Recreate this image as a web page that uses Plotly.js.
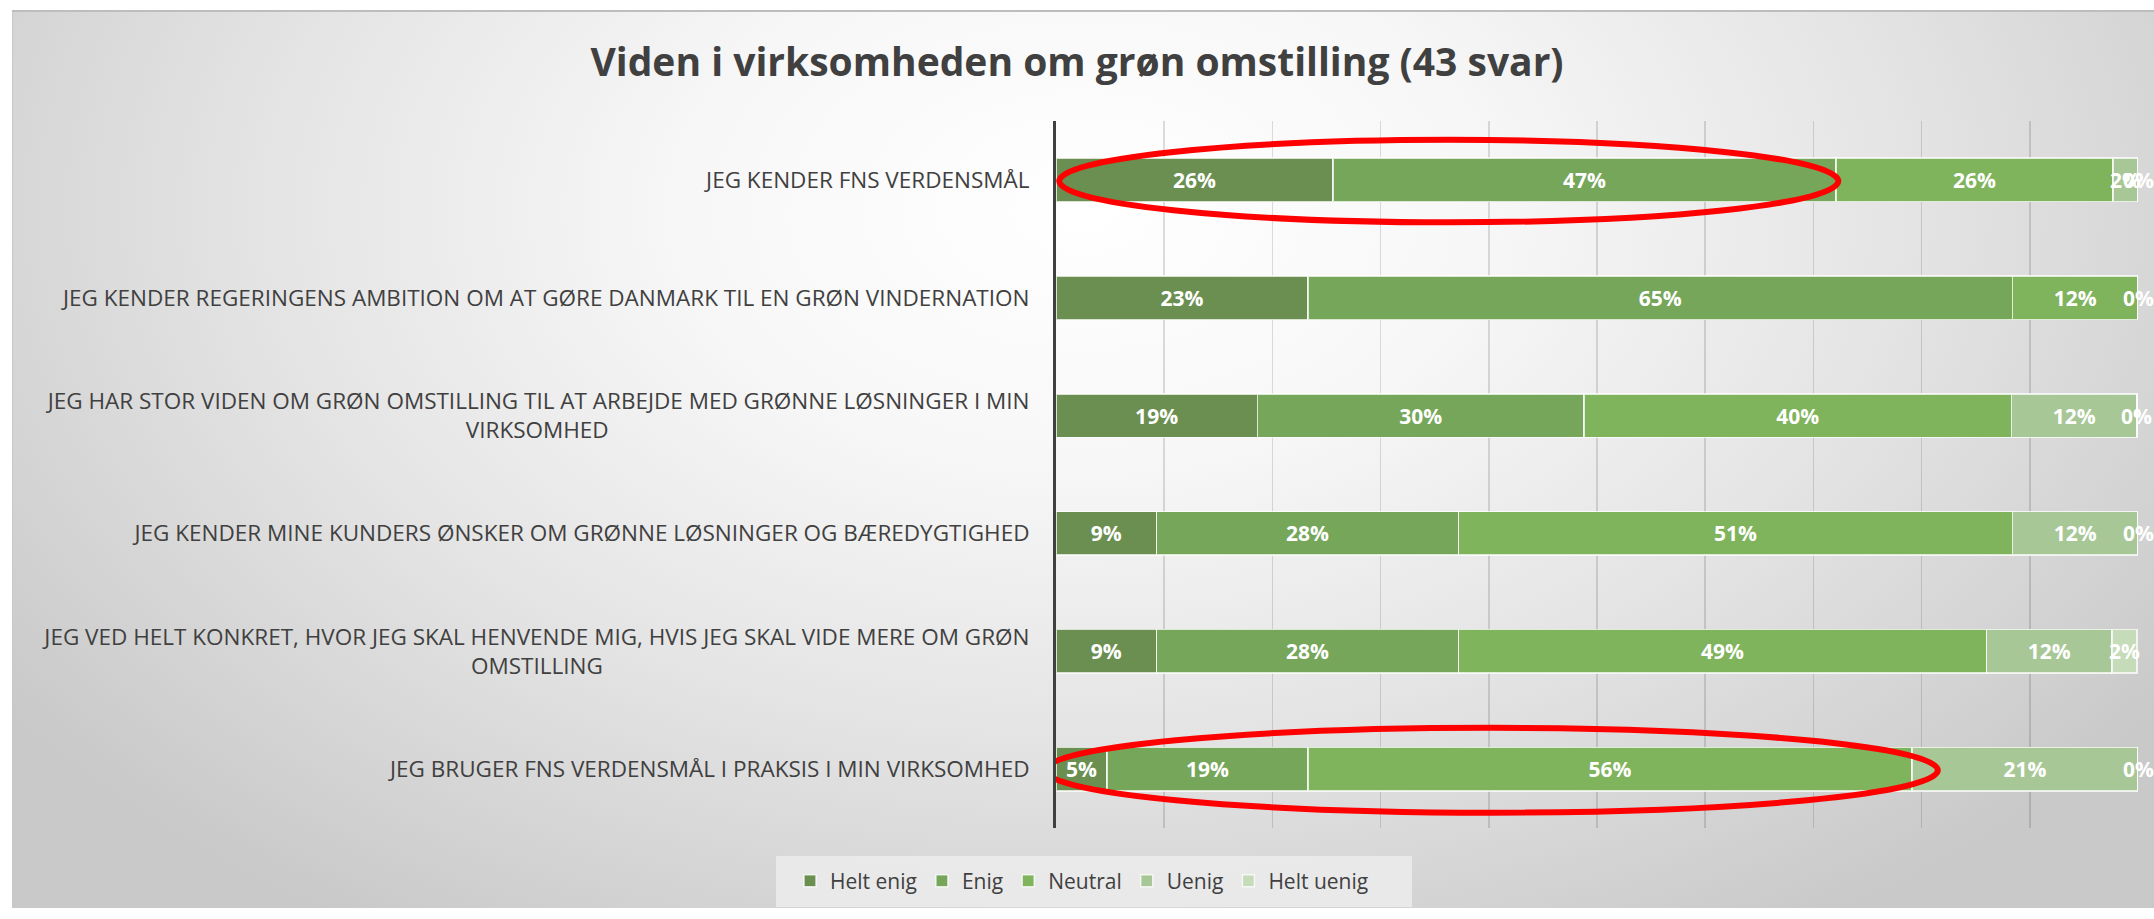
<!DOCTYPE html>
<html>
<head>
<meta charset="utf-8">
<script src="https://cdn.plot.ly/plotly-3.0.1.min.js"></script>
<style>
  html, body { margin: 0; padding: 0; background: #ffffff; width: 2154px; height: 919px; overflow: hidden; }
  #bg { position: absolute; left: 12px; top: 10px; width: 2142px; height: 898px;
        background: radial-gradient(ellipse 62% 95% at 50% 22%, #ffffff 0%, #f7f7f7 30%, #e4e4e4 62%, #c9c9c9 100%);
        border-top: 2px solid #bdbdbd; border-left: 1px solid #c8c8c8; box-sizing: border-box; }
  #chart { position: absolute; left: 0; top: 0; width: 2154px; height: 919px; }
  #measure { position: absolute; left: 0; top: 0; visibility: hidden; }
</style>
</head>
<body>
<div id="bg"></div>
<div id="chart"></div>
<svg id="measure" width="3000" height="100"><text id="mtext" x="0" y="50" style="font-family:'Open Sans';font-size:22.5px;white-space:pre"></text></svg>
<script>
const categories = [
  "JEG KENDER FNS VERDENSMÅL",
  "JEG KENDER REGERINGENS AMBITION OM AT GØRE DANMARK TIL EN GRØN VINDERNATION",
  "JEG HAR STOR VIDEN OM GRØN OMSTILLING TIL AT ARBEJDE MED GRØNNE LØSNINGER I MIN<br>VIRKSOMHED",
  "JEG KENDER MINE KUNDERS ØNSKER OM GRØNNE LØSNINGER OG BÆREDYGTIGHED",
  "JEG VED HELT KONKRET, HVOR JEG SKAL HENVENDE MIG, HVIS JEG SKAL VIDE MERE OM GRØN<br>OMSTILLING",
  "JEG BRUGER FNS VERDENSMÅL I PRAKSIS I MIN VIRKSOMHED"
];
const seriesNames = ["Helt enig", "Enig", "Neutral", "Uenig", "Helt uenig"];
const heltEnig  = [25.6, 23.3, 18.6,  9.3,  9.3,  4.7];
const enig      = [46.5, 65.1, 30.2, 27.9, 27.9, 18.6];
const neutral   = [25.6, 11.6, 39.5, 51.2, 48.8, 55.8];
const uenig     = [ 2.3,  0.0, 11.6, 11.6, 11.6, 20.9];
const heltUenig = [ 0.0,  0.0,  0.0,  0.0,  2.3,  0.0];
const titleText = "Viden i virksomheden om grøn omstilling (43 svar)";

const seriesValues = [heltEnig, enig, neutral, uenig, heltUenig];
const colors = ["#6b8f50", "#76a65a", "#7fb35c", "#a8c796", "#c6dbb9"];
const tickFontSize = 22.5;
const labelFont = { family: "Open Sans", size: 21, color: "#ffffff", weight: "bold" };

// centre the second line of wrapped tick labels (Excel-style) using no-break spaces,
// measured with the same SVG text renderer that Plotly uses
const measureSvg = document.getElementById("measure");
const mtext = document.getElementById("mtext");
function textWidth(s) { mtext.textContent = s; return mtext.getComputedTextLength(); }
const nbspW = (textWidth("a" + "\u00a0".repeat(40) + "a") - textWidth("aa")) / 40 || tickFontSize * 0.26;
const tickText = categories.map(c => {
  const lines = c.split("<br>");
  if (lines.length < 2) return c;
  const w1 = textWidth(lines[0]);
  const w2 = textWidth(lines[1]);
  const n = Math.max(0, Math.round((w1 - w2) / 2 / nbspW));
  return lines[0] + "<br>" + lines[1] + "\u00a0".repeat(n);
});
measureSvg.parentNode.removeChild(measureSvg);

const traces = seriesValues.map((vals, i) => ({
  type: "bar",
  orientation: "h",
  name: seriesNames[i],
  y: categories,
  x: vals,
  marker: { color: colors[i], line: { color: "rgba(255,255,255,0.75)", width: 1.5 } },
  texttemplate: "%{x:.0f}%",
  textposition: "inside",
  insidetextanchor: "middle",
  textangle: 0,
  constraintext: "none",
  cliponaxis: false,
  textfont: labelFont,
  hoverinfo: "skip"
}));

// labels for zero-width segments, placed at their stacked position on the x axis
const annotations = [];
const seen = new Set();
categories.forEach((cat, r) => {
  let base = 0;
  seriesValues.forEach(vals => {
    const v = vals[r];
    if (v === 0) {
      const key = r + ":" + base.toFixed(1);
      if (!seen.has(key)) {
        seen.add(key);
        annotations.push({ x: base, y: cat, xref: "x", yref: "y", text: "<b>0%</b>",
          showarrow: false, xanchor: "center", yanchor: "middle", font: labelFont });
      }
    }
    base += v;
  });
});

const layout = {
  width: 2154,
  height: 919,
  paper_bgcolor: "rgba(0,0,0,0)",
  plot_bgcolor: "rgba(0,0,0,0)",
  barmode: "stack",
  bargap: 0.63,
  margin: { l: 1056, r: 16, t: 121, b: 91 },
  title: {
    text: "<b>" + titleText + "</b>",
    x: 0.5, xref: "container", xanchor: "center",
    y: 1 - 62 / 919, yref: "container", yanchor: "middle",
    font: { family: "Open Sans", size: 39, color: "#404040" }
  },
  xaxis: {
    range: [0, 100],
    dtick: 10,
    showgrid: true,
    gridcolor: "rgba(0,0,0,0.13)",
    gridwidth: 1.5,
    showticklabels: false,
    zeroline: false,
    showline: false,
    fixedrange: true
  },
  yaxis: {
    autorange: "reversed",
    showline: true,
    linecolor: "#404040",
    linewidth: 3,
    ticks: "",
    tickmode: "array",
    tickvals: categories,
    ticktext: tickText,
    ticklabelstandoff: 19,
    tickfont: { family: "Open Sans", size: tickFontSize, color: "#404040" },
    fixedrange: true
  },
  showlegend: true,
  legend: {
    orientation: "h",
    x: (790 - 1056) / 1082, xanchor: "left",
    y: (828 - 881) / 707, yanchor: "middle",
    bgcolor: "rgba(0,0,0,0)",
    font: { family: "Open Sans", size: 21, color: "#404040" },
    traceorder: "normal",
    itemwidth: 30
  },
  annotations: annotations,
  shapes: [
    { type: "rect", xref: "paper", yref: "paper", layer: "below",
      x0: (776 - 1056) / 1082, x1: (1412 - 1056) / 1082,
      y0: (828 - 907) / 707, y1: (828 - 856) / 707,
      line: { width: 0 }, fillcolor: "rgba(236,236,236,0.85)" },
    { type: "circle", xref: "x", yref: "y", x0: 0.3, x1: 72.3, y0: -0.34, y1: 0.36,
      line: { color: "#ff0000", width: 6 }, fillcolor: "rgba(0,0,0,0)" },
    { type: "circle", xref: "x", yref: "y", x0: -1.0, x1: 81.5, y0: 4.65, y1: 5.37,
      line: { color: "#ff0000", width: 6 }, fillcolor: "rgba(0,0,0,0)" }
  ]
};

Plotly.newPlot("chart", traces, layout, { displayModeBar: false, staticPlot: true });
</script>
</body>
</html>
